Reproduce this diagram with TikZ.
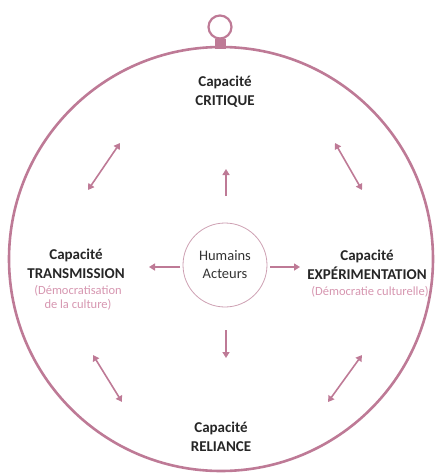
\documentclass[tikz,border=0pt]{standalone}
\usepackage{fontspec}
\setmainfont{Carlito}
\usetikzlibrary{arrows.meta}
\definecolor{mauve}{RGB}{190,122,150}
\definecolor{lightmauve}{RGB}{205,160,178}
\definecolor{subpink}{RGB}{214,150,176}
\tikzset{
  lbl/.style={font=\bfseries\fontsize{15}{19}\selectfont, align=center, text=black!85},
  sub/.style={font=\fontsize{12.5}{13.5}\selectfont, align=center, text=subpink},
  arr/.style={draw=mauve, line width=1.6pt, -{Triangle[length=6pt,width=7pt]}},
  darr/.style={draw=mauve, line width=1.6pt, {Triangle[length=6pt,width=7pt]}-{Triangle[length=6pt,width=7pt]}}
}
\begin{document}
\begin{tikzpicture}[x=1pt,y=-1pt]
\useasboundingbox (0,0) rectangle (437,475);
% outer circle
\node[circle, draw=mauve, line width=2.6pt, minimum size=424pt, inner sep=0pt] (outer) at (221,259) {};
% ring at top
\node[circle, draw=mauve, line width=2.2pt, minimum size=23pt, inner sep=0pt] (ring) at (220,27) {};
\fill[mauve] (215,39) rectangle (226,49);
% centre
\node[circle, draw=lightmauve, line width=0.8pt, minimum size=84pt, inner sep=0pt, font=\fontsize{14.5}{18}\selectfont, align=center, text=black!80] (c) at (225,265) {Humains\\Acteurs};
% labels
\node[lbl] (top) at (225,92) {Capacité\\CRITIQUE};
\node[lbl] (left) at (76,264) {Capacité\\TRANSMISSION};
\node[sub] (leftsub) at (78,298) {(Démocratisation\\de la culture)};
\node[lbl] (right) at (367,265) {Capacité\\EXPÉRIMENTATION};
\node[sub] (rightsub) at (370,292) {(Démocratie culturelle)};
\node[lbl] (bottom) at (221,437) {Capacité\\RELIANCE};
% straight arrows
\coordinate (u1) at (226,196); \coordinate (u2) at (226,169);
\coordinate (d1) at (226,330); \coordinate (d2) at (226,358);
\coordinate (l1) at (180,267); \coordinate (l2) at (149,267);
\coordinate (r1) at (270,267); \coordinate (r2) at (300,267);
\draw[arr] (u1) -- (u2);
\draw[arr] (d1) -- (d2);
\draw[arr] (l1) -- (l2);
\draw[arr] (r1) -- (r2);
% diagonal double arrows
\coordinate (a1) at (88,190); \coordinate (a2) at (120,143);
\coordinate (b1) at (335,143); \coordinate (b2) at (362,190);
\coordinate (e1) at (93,355); \coordinate (e2) at (122,402);
\coordinate (f1) at (328,402); \coordinate (f2) at (362,355);
\draw[darr] (a1) -- (a2);
\draw[darr] (b1) -- (b2);
\draw[darr] (e1) -- (e2);
\draw[darr] (f1) -- (f2);
\end{tikzpicture}
\end{document}
